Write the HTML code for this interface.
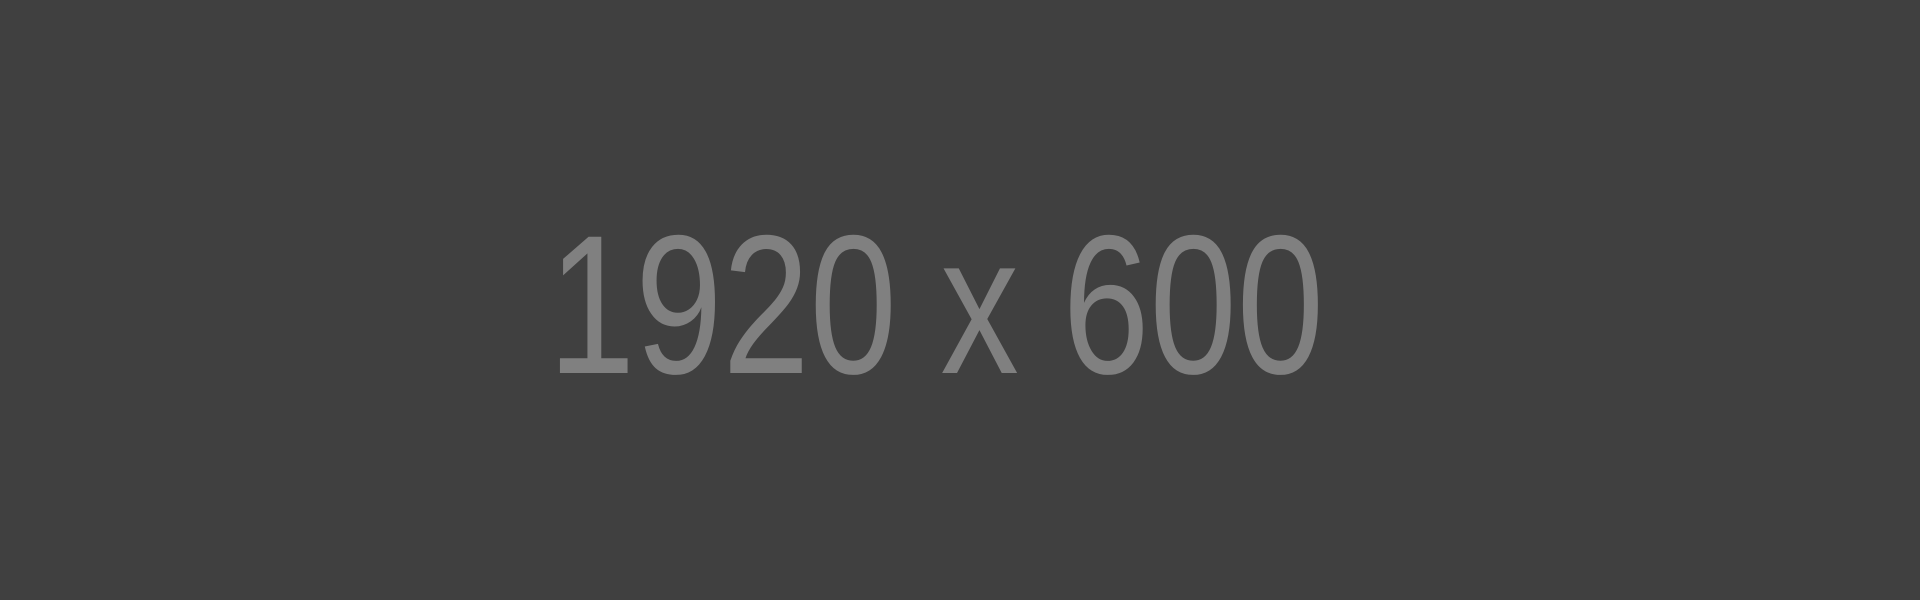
<!DOCTYPE html>
<html>
<head>
<meta charset="utf-8">
<style>
  html,body{margin:0;padding:0;width:1920px;height:600px;overflow:hidden;background:#404040;}
  svg{display:block;}
</style>
</head>
<body>
<svg width="1920" height="600" viewBox="0 0 1920 600">
  <rect x="0" y="0" width="1920" height="600" fill="#404040"/>
  <text x="548" y="373" font-family="'Liberation Sans', sans-serif" font-size="198" fill="#808080" textLength="776" lengthAdjust="spacingAndGlyphs">1920 x 600</text>
</svg>
</body>
</html>
